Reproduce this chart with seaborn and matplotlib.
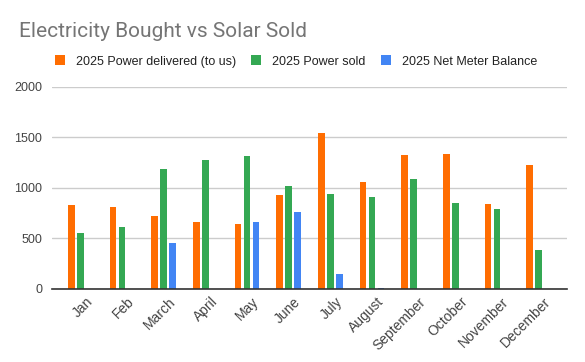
import matplotlib
matplotlib.use("Agg")
import matplotlib.pyplot as plt
import matplotlib.transforms as mtransforms
import seaborn as sns
import pandas as pd

months = ["Jan", "Feb", "March", "April", "May", "June", "July",
          "August", "September", "October", "November", "December"]
delivered = [832, 812, 723, 664, 645, 931, 1542, 1059, 1326, 1336, 842, 1227]
sold = [556, 615, 1188, 1276, 1316, 1020, 941, 911, 1089, 852, 792, 388]
net_balance = [0, 0, 457, 0, 664, 763, 151, 13, 0, 0, 0, 0]

series = ["2025 Power delivered (to us)", "2025 Power sold", "2025 Net Meter Balance"]
colors = ["#FF6D01", "#34A853", "#4285F4"]


def main():
    df = pd.DataFrame({"month": months, series[0]: delivered,
                       series[1]: sold, series[2]: net_balance})
    df = df.melt("month", var_name="series", value_name="value")

    sns.set_style("white")
    plt.rcParams["font.family"] = ["Liberation Sans", "DejaVu Sans"]

    fig = plt.figure(figsize=(5.85, 3.62), dpi=100)
    ax = fig.add_axes([0.0889, 0.2017, 0.969 - 0.0889, 0.7597 - 0.2017])
    sns.barplot(df, x="month", y="value", hue="series", palette=colors,
                width=0.648, gap=0.26, ax=ax, saturation=1, linewidth=0)

    ax.set_xlim(-0.68, 11.68)
    ax.set_ylim(0, 2000)
    ax.set_yticks([0, 500, 1000, 1500, 2000])
    ax.grid(axis="y", color="#cccccc", linewidth=1)
    ax.set_axisbelow(True)
    for s in ["left", "right", "top"]:
        ax.spines[s].set_visible(False)
    ax.spines["bottom"].set_color("#333333")
    ax.spines["bottom"].set_linewidth(1.2)
    ax.tick_params(length=0, labelsize=9, colors="#444444")
    ax.tick_params(axis="x", labelsize=10, pad=4)
    ax.tick_params(axis="y", pad=7)
    shift = mtransforms.ScaledTranslation(5 / 100, 0, fig.dpi_scale_trans)
    for lbl in ax.get_xticklabels():
        lbl.set_rotation(45)
        lbl.set_ha("right")
        lbl.set_rotation_mode("anchor")
        lbl.set_transform(lbl.get_transform() + shift)
    ax.set_xlabel("")
    ax.set_ylabel("")

    sns.move_legend(ax, "center left", bbox_to_anchor=(0.074, 0.83),
                    bbox_transform=fig.transFigure, ncol=3, frameon=False,
                    title=None, fontsize=9, handlelength=0.8,
                    handleheight=0.8, handletextpad=0.9, columnspacing=1.2)
    for t in ax.get_legend().get_texts():
        t.set_color("#222222")

    fig.text(0.033, 0.914, "Electricity Bought vs Solar Sold", fontsize=15,
             color="#757575", va="center", ha="left",
             family=["Roboto", "DejaVu Sans"])

    fig.savefig("out.png", dpi=100)


if __name__ == "__main__":
    main()
